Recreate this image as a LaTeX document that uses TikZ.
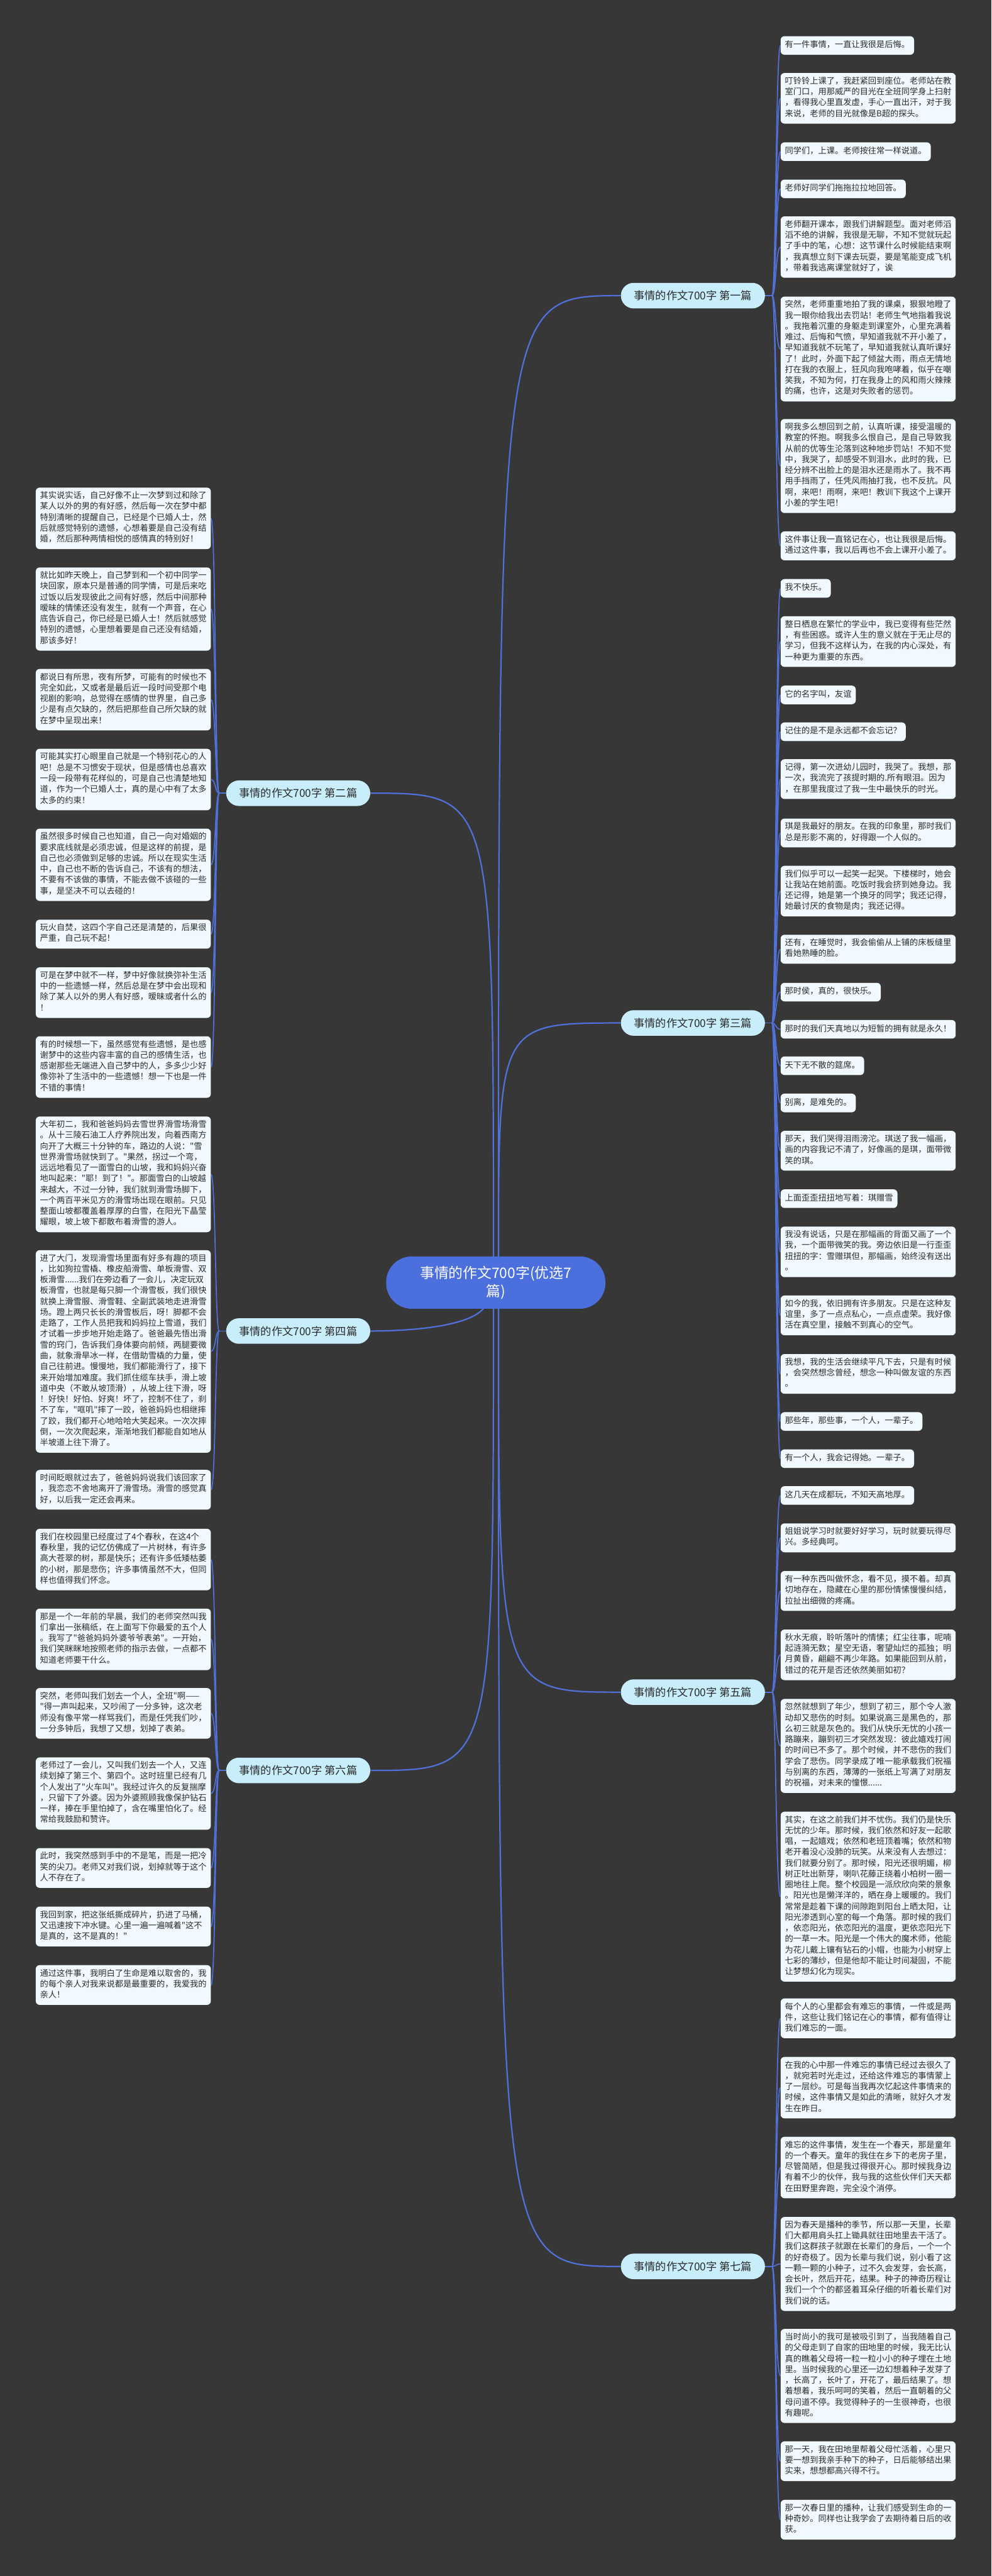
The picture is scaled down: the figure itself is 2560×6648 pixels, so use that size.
\documentclass[tikz,border=0pt]{standalone}
\usepackage{fontspec}
\setmainfont{Noto Sans CJK SC}[Ligatures=TeXOff]
\usetikzlibrary{calc}
\definecolor{bg}{HTML}{383738}
\definecolor{leaffill}{HTML}{F0FAFE}
\definecolor{labfill}{HTML}{C8EDFB}
\definecolor{cenfill}{HTML}{4B6FDD}
\definecolor{linec}{HTML}{5171DA}
\definecolor{txt}{HTML}{2B2B2B}
\pgfdeclarelayer{bgl}
\pgfdeclarelayer{back}
\pgfsetlayers{bgl,back,main}
\begin{document}
\begin{tikzpicture}[x=0.5pt,y=-0.5pt,
 leaf/.style={fill=leaffill, rounded corners=5pt, inner xsep=5.5pt, inner ysep=5pt, align=left, text=txt, font=\fontsize{10.75}{14}\selectfont, execute at begin node=\strut, execute at end node=\strut, anchor=north west},
 lab/.style={fill=labfill, rounded corners=16.5pt, minimum width=186pt, minimum height=33pt, inner sep=0pt, text=txt, font=\fontsize{14}{16}\selectfont},
 cen/.style={fill=cenfill, rounded corners=33pt, minimum width=283pt, minimum height=67.5pt, align=center, text=white, font=\fontsize{18.5}{24}\selectfont, inner sep=0pt},
 conn/.style={draw=linec, line width=1.8pt},
 twig/.style={draw=linec, line width=1.4pt}]

\begin{pgfonlayer}{bgl}
\fill[bg] (0,0) rectangle (2560,6648);
\end{pgfonlayer}
\useasboundingbox (0,0) rectangle (2560,6648);

% center
\node[cen] (C) at (1280,3310) {事情的作文700字(优选7\\篇)};

% branch labels
\node[lab] (B1) at (1789,763) {事情的作文700字 第一篇};
\node[lab] (B3) at (1789,2640) {事情的作文700字 第三篇};
\node[lab] (B5) at (1789,4367) {事情的作文700字 第五篇};
\node[lab] (B7) at (1789,5849) {事情的作文700字 第七篇};
\node[lab] (B2) at (770,2047) {事情的作文700字 第二篇};
\node[lab] (B4) at (770,3435) {事情的作文700字 第四篇};
\node[lab] (B6) at (770,4569) {事情的作文700字 第六篇};

% branch 1
\node[leaf] (r1a) at (2015,93) {有一件事情，一直让我很是后悔。};
\node[leaf] (r1b) at (2015,188) {叮铃铃上课了，我赶紧回到座位。老师站在教\\室门口，用那威严的目光在全班同学身上扫射\\，看得我心里直发虚，手心一直出汗，对于我\\来说，老师的目光就像是B超的探头。};
\node[leaf] (r1c) at (2015,367) {同学们，上课。老师按往常一样说道。};
\node[leaf] (r1d) at (2015,463) {老师好同学们拖拖拉拉地回答。};
\node[leaf] (r1e) at (2015,558) {老师翻开课本，跟我们讲解题型。面对老师滔\\滔不绝的讲解，我很是无聊，不知不觉就玩起\\了手中的笔，心想：这节课什么时候能结束啊\\，我真想立刻下课去玩耍，要是笔能变成飞机\\，带着我逃离课堂就好了，诶};
\node[leaf] (r1f) at (2015,765) {突然，老师重重地拍了我的课桌，狠狠地瞪了\\我一眼你给我出去罚站！老师生气地指着我说\\。我拖着沉重的身躯走到课室外，心里充满着\\难过、后悔和气愤，早知道我就不开小差了，\\早知道我就不玩笔了，早知道我就认真听课好\\了！此时，外面下起了倾盆大雨，雨点无情地\\打在我的衣服上，狂风向我咆哮着，似乎在嘲\\笑我，不知为何，打在我身上的风和雨火辣辣\\的痛，也许，这是对失败者的惩罚。};
\node[leaf] (r1g) at (2015,1081) {啊我多么想回到之前，认真听课，接受温暖的\\教室的怀抱。啊我多么恨自己，是自己导致我\\从前的优等生沦落到这种地步罚站！不知不觉\\中，我哭了，却感受不到泪水，此时的我，已\\经分辨不出脸上的是泪水还是雨水了。我不再\\用手挡雨了，任凭风雨抽打我，也不反抗。风\\啊，来吧！雨啊，来吧！教训下我这个上课开\\小差的学生吧！};
\node[leaf] (r1h) at (2015,1371) {这件事让我一直铭记在心，也让我很是后悔。\\通过这件事，我以后再也不会上课开小差了。};

% branch 3
\node[leaf] (r3a) at (2015,1494) {我不快乐。};
\node[leaf] (r3b) at (2015,1590) {整日栖息在繁忙的学业中，我已变得有些茫然\\，有些困惑。或许人生的意义就在于无止尽的\\学习，但我不这样认为，在我的内心深处，有\\一种更为重要的东西。};
\node[leaf] (r3c) at (2015,1769) {它的名字叫，友谊};
\node[leaf] (r3d) at (2015,1864) {记住的是不是永远都不会忘记？};
\node[leaf] (r3e) at (2015,1959) {记得，第一次进幼儿园时，我哭了。我想，那\\一次，我流完了孩提时期的.所有眼泪。因为\\，在那里我度过了我一生中最快乐的时光。};
\node[leaf] (r3f) at (2015,2112) {琪是我最好的朋友。在我的印象里，那时我们\\总是形影不离的，好得跟一个人似的。};
\node[leaf] (r3g) at (2015,2234) {我们似乎可以一起笑一起哭。下楼梯时，她会\\让我站在她前面。吃饭时我会挤到她身边。我\\还记得，她是第一个换牙的同学；我还记得，\\她最讨厌的食物是肉；我还记得。};
\node[leaf] (r3h) at (2015,2412) {还有，在睡觉时，我会偷偷从上铺的床板缝里\\看她熟睡的脸。};
\node[leaf] (r3i) at (2015,2536) {那时侯，真的，很快乐。};
\node[leaf] (r3j) at (2015,2632) {那时的我们天真地以为短暂的拥有就是永久！};
\node[leaf] (r3k) at (2015,2726) {天下无不散的筵席。};
\node[leaf] (r3l) at (2015,2822) {别离，是难免的。};
\node[leaf] (r3m) at (2015,2918) {那天，我们哭得泪雨滂沱。琪送了我一幅画，\\画的内容我记不清了，好像画的是琪，面带微\\笑的琪。};
\node[leaf] (r3n) at (2015,3069) {上面歪歪扭扭地写着：琪赠雪};
\node[leaf] (r3o) at (2015,3165) {我没有说话，只是在那幅画的背面又画了一个\\我，一个面带微笑的我。旁边依旧是一行歪歪\\扭扭的字：雪赠琪但，那幅画，始终没有送出\\。};
\node[leaf] (r3p) at (2015,3343) {如今的我，依旧拥有许多朋友。只是在这种友\\谊里，多了一点点私心，一点点虚荣。我好像\\活在真空里，接触不到真心的空气。};
\node[leaf] (r3q) at (2015,3494) {我想，我的生活会继续平凡下去，只是有时候\\，会突然想念曾经，想念一种叫做友谊的东西\\。};
\node[leaf] (r3r) at (2015,3644) {那些年，那些事，一个人，一辈子。};
\node[leaf] (r3s) at (2015,3740) {有一个人，我会记得她。一辈子。};

% branch 5
\node[leaf] (r5a) at (2015,3835) {这几天在成都玩，不知天高地厚。};
\node[leaf] (r5b) at (2015,3931) {姐姐说学习时就要好好学习，玩时就要玩得尽\\兴。多经典呵。};
\node[leaf] (r5c) at (2015,4054) {有一种东西叫做怀念，看不见，摸不着。却真\\切地存在，隐藏在心里的那份情愫慢慢纠结，\\拉扯出细微的疼痛。};
\node[leaf] (r5d) at (2015,4205) {秋水无痕，聆听落叶的情愫；红尘往事，呢喃\\起涟漪无数；星空无语，奢望灿烂的孤独；明\\月黄昏，翩翩不再少年路。如果能回到从前，\\错过的花开是否还依然美丽如初？};
\node[leaf] (r5e) at (2015,4384) {忽然就想到了年少，想到了初三，那个令人激\\动却又悲伤的时刻。如果说高三是黑色的，那\\么初三就是灰色的。我们从快乐无忧的小孩一\\路蹦来，蹦到初三才突然发现：彼此嬉戏打闹\\的时间已不多了。那个时候，并不悲伤的我们\\学会了悲伤。同学录成了唯一能承载我们祝福\\与别离的东西，薄薄的一张纸上写满了对朋友\\的祝福，对未来的憧憬......};
\node[leaf] (r5f) at (2015,4675) {其实，在这之前我们并不忧伤。我们仍是快乐\\无忧的少年。那时候，我们依然和好友一起歌\\唱，一起嬉戏；依然和老班顶着嘴；依然和物\\老开着没心没肺的玩笑。从来没有人去想过：\\我们就要分别了。那时候，阳光还很明媚，柳\\树正吐出新芽，喇叭花藤正绕着小柏树一圈一\\圈地往上爬。整个校园是一派欣欣向荣的景象\\。阳光也是懒洋洋的，晒在身上暖暖的。我们\\常常是趁着下课的间隙跑到阳台上晒太阳，让\\阳光渗透到心室的每一个角落。那时候的我们\\，依恋阳光，依恋阳光的温度，更依恋阳光下\\的一草一木。阳光是一个伟大的魔术师，他能\\为花儿戴上镶有钻石的小帽，也能为小树穿上\\七彩的薄纱，但是他却不能让时间凝固，不能\\让梦想幻化为现实。};

% branch 7
\node[leaf] (r7a) at (2015,5157) {每个人的心里都会有难忘的事情，一件或是两\\件，这些让我们铭记在心的事情，都有值得让\\我们难忘的一面。};
\node[leaf] (r7b) at (2015,5308) {在我的心中那一件难忘的事情已经过去很久了\\，就宛若时光走过，还给这件难忘的事情蒙上\\了一层纱。可是每当我再次忆起这件事情来的\\时候，这件事情又是如此的清晰，就好久才发\\生在昨日。};
\node[leaf] (r7c) at (2015,5514) {难忘的这件事情，发生在一个春天，那是童年\\的一个春天。童年的我住在乡下的老房子里，\\尽管简陋，但是我过得很开心。那时候我身边\\有着不少的伙伴，我与我的这些伙伴们天天都\\在田野里奔跑，完全没个消停。};
\node[leaf] (r7d) at (2015,5721) {因为春天是播种的季节，所以那一天里，长辈\\们大都用肩头扛上锄具就往田地里去干活了。\\我们这群孩子就跟在长辈们的身后，一个一个\\的好奇极了。因为长辈与我们说，别小看了这\\一颗一颗的小种子，过不久会发芽，会长高，\\会长叶，然后开花，结果。种子的神奇历程让\\我们一个个的都竖着耳朵仔细的听着长辈们对\\我们说的话。};
\node[leaf] (r7e) at (2015,6010) {当时尚小的我可是被吸引到了，当我随着自己\\的父母走到了自家的田地里的时候，我无比认\\真的瞧着父母将一粒一粒小小的种子埋在土地\\里。当时候我的心里还一边幻想着种子发芽了\\，长高了，长叶了，开花了，最后结果了。想\\着想着，我乐呵呵的笑着，然后一直朝着的父\\母问道不停。我觉得种子的一生很神奇，也很\\有趣呢。};
\node[leaf] (r7f) at (2015,6300) {那一天，我在田地里帮着父母忙活着，心里只\\要一想到我亲手种下的种子，日后能够结出果\\实来，想想都高兴得不行。};
\node[leaf] (r7g) at (2015,6451) {那一次春日里的播种，让我们感受到生命的一\\种奇妙。同样也让我学会了去期待着日后的收\\获。};

% branch 2
\node[leaf] (l2a) at (92,1258) {其实说实话，自己好像不止一次梦到过和除了\\某人以外的男的有好感，然后每一次在梦中都\\特别清晰的提醒自己，已经是个已婚人士，然\\后就感觉特别的遗憾，心想着要是自己没有结\\婚，然后那种两情相悦的感情真的特别好！};
\node[leaf] (l2b) at (92,1464) {就比如昨天晚上，自己梦到和一个初中同学一\\块回家，原本只是普通的同学情，可是后来吃\\过饭以后发现彼此之间有好感，然后中间那种\\暧昧的情愫还没有发生，就有一个声音，在心\\底告诉自己，你已经是已婚人士！然后就感觉\\特别的遗憾，心里想着要是自己还没有结婚，\\那该多好！};
\node[leaf] (l2c) at (92,1726) {都说日有所思，夜有所梦，可能有的时候也不\\完全如此，又或者是最后近一段时间受那个电\\视剧的影响，总觉得在感情的世界里，自己多\\少是有点欠缺的，然后把那些自己所欠缺的就\\在梦中呈现出来！};
\node[leaf] (l2d) at (92,1932) {可能其实打心眼里自己就是一个特别花心的人\\吧！总是不习惯安于现状，但是感情也总喜欢\\一段一段带有花样似的，可是自己也清楚地知\\道，作为一个已婚人士，真的是心中有了太多\\太多的约束！};
\node[leaf] (l2e) at (92,2138) {虽然很多时候自己也知道，自己一向对婚姻的\\要求底线就是必须忠诚，但是这样的前提，是\\自己也必须做到足够的忠诚。所以在现实生活\\中，自己也不断的告诉自己，不该有的想法，\\不要有不该做的事情，不能去做不该碰的一些\\事，是坚决不可以去碰的！};
\node[leaf] (l2f) at (92,2373) {玩火自焚，这四个字自己还是清楚的，后果很\\严重，自己玩不起！};
\node[leaf] (l2g) at (92,2496) {可是在梦中就不一样，梦中好像就换弥补生活\\中的一些遗憾一样，然后总是在梦中会出现和\\除了某人以外的男人有好感，暧昧或者什么的\\！};
\node[leaf] (l2h) at (92,2674) {有的时候想一下，虽然感觉有些遗憾，是也感\\谢梦中的这些内容丰富的自己的感情生活，也\\感谢那些无端进入自己梦中的人，多多少少好\\像弥补了生活中的一些遗憾！想一下也是一件\\不错的事情！};

% branch 4
\node[leaf] (l4a) at (92,2881) {大年初二，我和爸爸妈妈去雪世界滑雪场滑雪\\。从十三陵石油工人疗养院出发，向着西南方\\向开了大概三十分钟的车，路边的人说："雪\\世界滑雪场就快到了。"果然，拐过一个弯，\\远远地看见了一面雪白的山坡，我和妈妈兴奋\\地叫起来："耶！到了！"。那面雪白的山坡越\\来越大，不过一分钟，我们就到滑雪场脚下，\\一个两百平米见方的滑雪场出现在眼前。只见\\整面山坡都覆盖着厚厚的白雪，在阳光下晶莹\\耀眼，坡上坡下都散布着滑雪的游人。};
\node[leaf] (l4b) at (92,3226) {进了大门，发现滑雪场里面有好多有趣的项目\\，比如狗拉雪橇、橡皮船滑雪、单板滑雪、双\\板滑雪......我们在旁边看了一会儿，决定玩双\\板滑雪，也就是每只脚一个滑雪板，我们很快\\就换上滑雪服、滑雪鞋、全副武装地走进滑雪\\场。蹬上两只长长的滑雪板后，呀！脚都不会\\走路了，工作人员把我和妈妈拉上雪道，我们\\才试着一步步地开始走路了。爸爸最先悟出滑\\雪的窍门，告诉我们身体要向前倾，两腿要微\\曲，就象滑旱冰一样，在借助雪橇的力量，使\\自己往前进。慢慢地，我们都能滑行了，接下\\来开始增加难度。我们抓住缆车扶手，滑上坡\\道中央（不敢从坡顶滑），从坡上往下滑，呀\\！好快！好怕、好爽！坏了，控制不住了，刹\\不了车，"哐叽"摔了一跤，爸爸妈妈也相继摔\\了跤，我们都开心地哈哈大笑起来。一次次摔\\倒，一次次爬起来，渐渐地我们都能自如地从\\半坡道上往下滑了。};
\node[leaf] (l4c) at (92,3793) {时间眨眼就过去了，爸爸妈妈说我们该回家了\\，我恋恋不舍地离开了滑雪场。滑雪的感觉真\\好，以后我一定还会再来。};

% branch 6
\node[leaf] (l6a) at (92,3945) {我们在校园里已经度过了4个春秋，在这4个\\春秋里，我的记忆仿佛成了一片树林，有许多\\高大苍翠的树，那是快乐；还有许多低矮枯萎\\的小树，那是悲伤；许多事情虽然不大，但同\\样也值得我们怀念。};
\node[leaf] (l6b) at (92,4151) {那是一个一年前的早晨，我们的老师突然叫我\\们拿出一张稿纸，在上面写下你最爱的五个人\\。我写了"爸爸妈妈外婆爷爷表弟"。一开始，\\我们笑眯眯地按照老师的指示去做，一点都不\\知道老师要干什么。};
\node[leaf] (l6c) at (92,4356) {突然，老师叫我们划去一个人，全班"啊——\\"得一声叫起来，又吵闹了一分多钟，这次老\\师没有像平常一样骂我们，而是任凭我们吵，\\一分多钟后，我想了又想，划掉了表弟。};
\node[leaf] (l6d) at (92,4535) {老师过了一会儿，又叫我们划去一个人，又连\\续划掉了第三个、第四个。这时班里已经有几\\个人发出了"火车叫"。我经过许久的反复揣摩\\，只留下了外婆。因为外婆照顾我像保护钻石\\一样，捧在手里怕掉了，含在嘴里怕化了。经\\常给我鼓励和赞许。};
\node[leaf] (l6e) at (92,4769) {此时，我突然感到手中的不是笔，而是一把冷\\笑的尖刀。老师又对我们说，划掉就等于这个\\人不存在了。};
\node[leaf] (l6f) at (92,4920) {我回到家，把这张纸撕成碎片，扔进了马桶，\\又迅速按下冲水键。心里一遍一遍喊着"这不\\是真的，这不是真的！"};
\node[leaf] (l6g) at (92,5071) {通过这件事，我明白了生命是难以取舍的，我\\的每个亲人对我来说都是最重要的，我爱我的\\亲人！};

% junctions
\coordinate (J1) at ($(B1.east)+(18,0)$);
\coordinate (J3) at ($(B3.east)+(18,0)$);
\coordinate (J5) at ($(B5.east)+(18,0)$);
\coordinate (J7) at ($(B7.east)+(18,0)$);
\coordinate (J2) at ($(B2.west)+(-18,0)$);
\coordinate (J4) at ($(B4.west)+(-18,0)$);
\coordinate (J6) at ($(B6.west)+(-18,0)$);
\coordinate (CNr) at ($(C.north)+(7,2)$);
\coordinate (CNl) at ($(C.north)+(-6,2)$);
\coordinate (CSr) at ($(C.south)+(7,-2)$);
\coordinate (CSl) at ($(C.south)+(-6,-2)$);
\coordinate (CSw) at ($(C.south)+(-31,-2)$);

\begin{pgfonlayer}{back}
% center to branches
\draw[conn] (CNr) .. controls (CNr |- B1.west) and (CNr |- B1.west) .. (B1.west);
\draw[conn] (CNr) .. controls (CNr |- B3.west) and (CNr |- B3.west) .. (B3.west);
\draw[conn] (CSr) .. controls (CSr |- B5.west) and (CSr |- B5.west) .. (B5.west);
\draw[conn] (CSr) .. controls (CSr |- B7.west) and (CSr |- B7.west) .. (B7.west);
\draw[conn] (CNl) .. controls (CNl |- B2.east) and (CNl |- B2.east) .. (B2.east);
\draw[conn] (CSl) .. controls (CSl |- B6.east) and (CSl |- B6.east) .. (B6.east);
\draw[conn] (CSw) .. controls +(-40,50) and +(90,0) .. (B4.east);
% stubs
\draw[twig] (B1.east) -- (J1);
\draw[twig] (B3.east) -- (J3);
\draw[twig] (B5.east) -- (J5);
\draw[twig] (B7.east) -- (J7);
\draw[twig] (B2.west) -- (J2);
\draw[twig] (B4.west) -- (J4);
\draw[twig] (B6.west) -- (J6);
% leaves right
\foreach \n in {r1a,r1b,r1c,r1d,r1e,r1f,r1g,r1h}
  \draw[twig] (J1) .. controls +(10,0) and +(-12,0) .. (\n.west);
\foreach \n in {r3a,r3b,r3c,r3d,r3e,r3f,r3g,r3h,r3i,r3j,r3k,r3l,r3m,r3n,r3o,r3p,r3q,r3r,r3s}
  \draw[twig] (J3) .. controls +(10,0) and +(-12,0) .. (\n.west);
\foreach \n in {r5a,r5b,r5c,r5d,r5e,r5f}
  \draw[twig] (J5) .. controls +(10,0) and +(-12,0) .. (\n.west);
\foreach \n in {r7a,r7b,r7c,r7d,r7e,r7f,r7g}
  \draw[twig] (J7) .. controls +(10,0) and +(-12,0) .. (\n.west);
% leaves left
\foreach \n in {l2a,l2b,l2c,l2d,l2e,l2f,l2g,l2h}
  \draw[twig] (J2) .. controls +(-10,0) and +(12,0) .. (\n.east);
\foreach \n in {l4a,l4b,l4c}
  \draw[twig] (J4) .. controls +(-10,0) and +(12,0) .. (\n.east);
\foreach \n in {l6a,l6b,l6c,l6d,l6e,l6f,l6g}
  \draw[twig] (J6) .. controls +(-10,0) and +(12,0) .. (\n.east);
\end{pgfonlayer}
\end{tikzpicture}
\end{document}
